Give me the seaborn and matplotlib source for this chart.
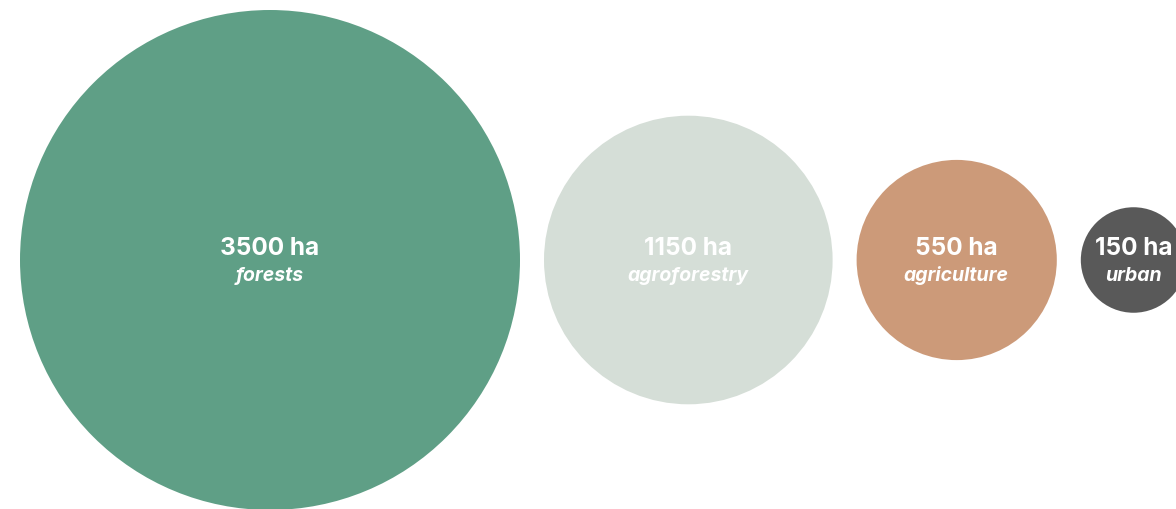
import numpy as np
import pandas as pd
import matplotlib.pyplot as plt
import seaborn as sns

# land use areas (ha)
categories = ['forests', 'agroforestry', 'agriculture', 'urban']
values = [3500, 1150, 550, 150]
colors = ['#5f9f86', '#d5ded7', '#cc9a79', '#595959']

sns.set_style('white')
plt.rcParams['font.family'] = ['Inter', 'DejaVu Sans']

W, H, DPI = 1176, 510, 100
fig = plt.figure(figsize=(W / DPI, H / DPI), dpi=DPI)
ax = fig.add_axes([0, 0, 1, 1])

# radii in pixels, area proportional to value
r_max = 250
radii = [r_max * np.sqrt(v / max(values)) + (1 if v < max(values) else 0) for v in values]
gap = 24
xs = []
x = 20
for r in radii:
    xs.append(x + r)
    x += 2 * r + gap
cy = 261

df = pd.DataFrame({'cat': categories, 'val': values, 'x': xs, 'y': cy, 'r': radii})
sizes = {c: (2 * r * 72 / DPI) ** 2 for c, r in zip(categories, radii)}

sns.scatterplot(data=df, x='x', y='y', hue='cat', palette=dict(zip(categories, colors)),
                size='cat', sizes=sizes, legend=False, linewidth=0, alpha=1, ax=ax)

for _, row in df.iterrows():
    ax.text(row['x'], row['y'] - 12, f"{row['val']} ha", ha='center', va='center',
            color='white', fontsize=17.5, fontweight='bold')
    ax.text(row['x'], row['y'] + 15, row['cat'], ha='center', va='center',
            color='white', fontsize=14, fontweight='bold', fontstyle='italic')

ax.set_xlim(0, W)
ax.set_ylim(H, 0)
ax.axis('off')

fig.savefig('out.png', dpi=DPI)
